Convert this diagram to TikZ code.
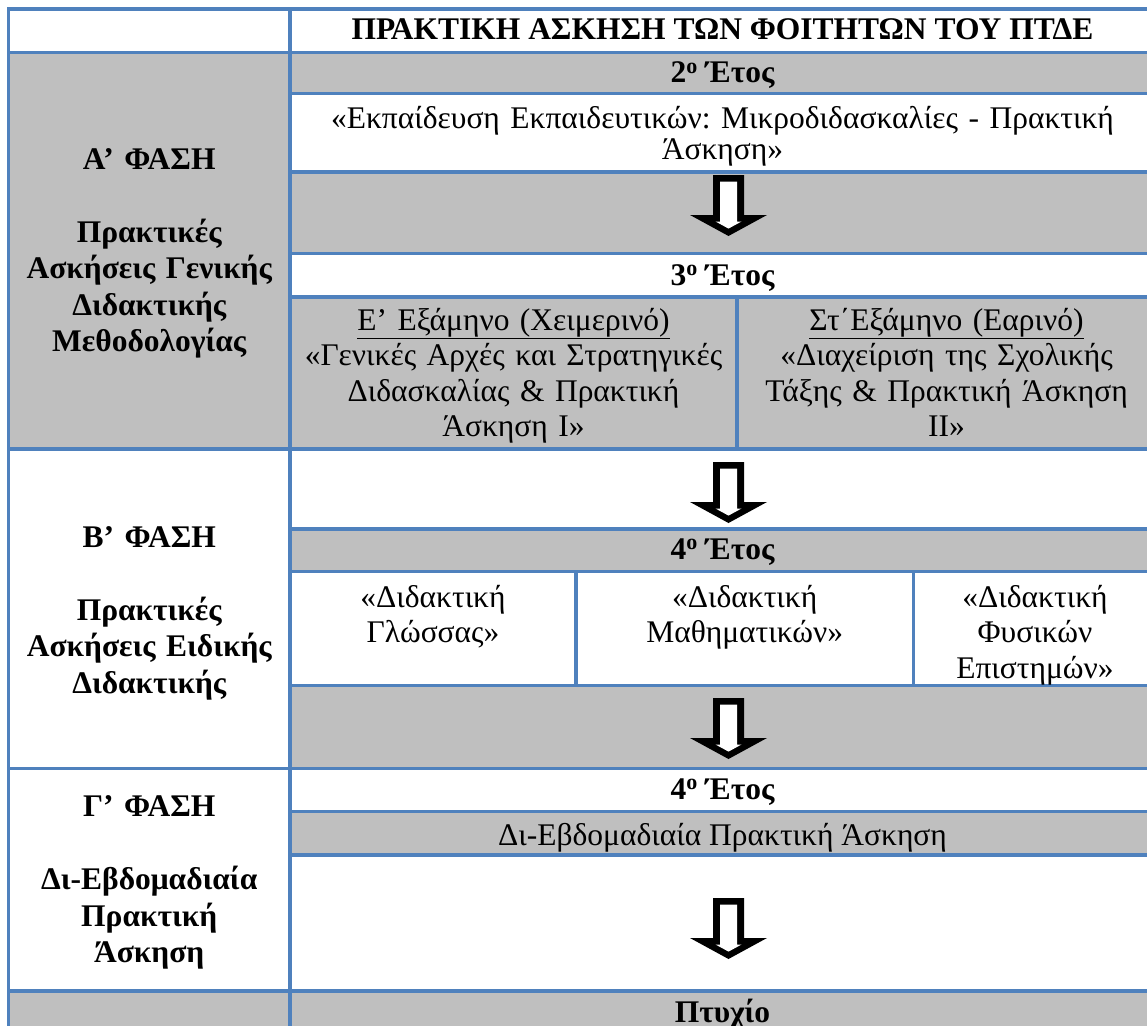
\documentclass[tikz,border=0pt]{standalone}
\usepackage{fontspec}
\setmainfont{Liberation Serif}
\frenchspacing
\definecolor{tblblue}{HTML}{4F81BD}
\definecolor{cellgray}{HTML}{BFBFBF}
\begin{document}
\begin{tikzpicture}[x=1pt,y=-1pt,
    txt/.style={inner sep=0pt,anchor=base,font=\fontsize{31.5}{35.5}\selectfont},
    hd/.style={txt,font=\fontsize{31.5}{36.5}\selectfont\bfseries},
    grid/.style={draw=tblblue,line width=3.3pt,line cap=rect}]
    \useasboundingbox (0,0) rectangle (1147,1025);
    % shaded cells
    \foreach \xa/\ya/\xb/\yb in {8.5/52.5/290/449, 290/52.5/1156/93.5, 290/172/1156/253.5,
        290/297/1156/449, 290/529/1156/571.7, 290/685.7/1156/768.3, 290/811.3/1156/855, 8.5/991/1156/1040}
        \fill[cellgray] (\xa,\ya) rectangle (\xb,\yb);
    % table rules
    \foreach \y in {9,52.5,449,768.3,991}
        \draw[grid] (8.5,\y) -- (1156,\y);
    \foreach \y in {93.5,172,253.5,297,529,571.7,685.7,811.3,855}
        \draw[grid] (290,\y) -- (1156,\y);
    \foreach \x in {8.5,290,1156}
        \draw[grid] (\x,9) -- (\x,1040);
    \draw[grid] (737,297) -- (737,449);
    \foreach \x in {576,913.4}
        \draw[grid] (\x,571.7) -- (\x,685.7);
    % block arrows
    \foreach \t in {175,462,698,898}
    {
        \begin{scope}[shift={(728.5,\t)}]
            \fill (-15.5,0) -- (15.5,0) -- (15.5,40) -- (38.5,40) -- (0,61) -- (-38.5,40) -- (-15.5,40) -- cycle;
            \fill[white] (-8.5,6.5) -- (8.5,6.5) -- (8.5,46.5) -- (13,46.5) -- (0,53.6) -- (-13,46.5) -- (-8.5,46.5) -- cycle;
        \end{scope}
    }
    % phases
    \node[hd,text width=275pt,align=center] (phaseA) at (149.25,169) {Α’ ΦΑΣΗ\\[36.5pt]Πρακτικές\\Ασκήσεις Γενικής\\Διδακτικής\\Μεθοδολογίας};
    \node[hd,text width=275pt,align=center] (phaseB) at (149.25,547) {Β’ ΦΑΣΗ\\[36.5pt]Πρακτικές\\Ασκήσεις Ειδικής\\Διδακτικής};
    \node[hd,text width=275pt,align=center] (phaseC) at (149.25,816) {Γ’ ΦΑΣΗ\\[37pt]Δι-Εβδομαδιαία\\Πρακτική\\Άσκηση};
    % courses
    \node[hd] (title) at (722.5,40) {ΠΡΑΚΤΙΚΗ ΑΣΚΗΣΗ ΤΩΝ ΦΟΙΤΗΤΩΝ ΤΟΥ ΠΤΔΕ};
    \node[hd] (year2) at (722.5,82.5) {2\textsuperscript{ο} Έτος};
    \node[txt,font=\fontsize{31.5}{31.5}\selectfont,text width=850pt,align=center] (micro) at (722.5,128) {«Εκπαίδευση Εκπαιδευτικών: Μικροδιδασκαλίες - Πρακτική\\Άσκηση»};
    \node[hd] (year3) at (722.5,285) {3\textsuperscript{ο} Έτος};
    \node[txt,text width=440pt,align=center] (semW) at (513.5,330) {\underline{Ε’ Εξάμηνο (Χειμερινό)}\\«Γενικές Αρχές και Στρατηγικές\\Διδασκαλίας \& Πρακτική\\Άσκηση I»};
    \node[txt,text width=410pt,align=center] (semS) at (946.5,330) {\underline{Στ΄Εξάμηνο (Εαρινό)}\\«Διαχείριση της Σχολικής\\Τάξης \& Πρακτική Άσκηση\\II»};
    \node[hd] (year4a) at (722.5,559) {4\textsuperscript{ο} Έτος};
    \node[txt,text width=280pt,align=center] (didLang) at (433,607) {«Διδακτική\\Γλώσσας»};
    \node[txt,text width=330pt,align=center] (didMath) at (744.7,607) {«Διδακτική\\Μαθηματικών»};
    \node[txt,text width=236pt,align=center] (didSci) at (1035,607) {«Διδακτική\\Φυσικών\\Επιστημών»};
    \node[hd] (year4b) at (722.5,799) {4\textsuperscript{ο} Έτος};
    \node[txt] (biweek) at (722.5,845) {Δι-Εβδομαδιαία Πρακτική Άσκηση};
    \node[hd] (degree) at (722.5,1022) {Πτυχίο};
\end{tikzpicture}
\end{document}
